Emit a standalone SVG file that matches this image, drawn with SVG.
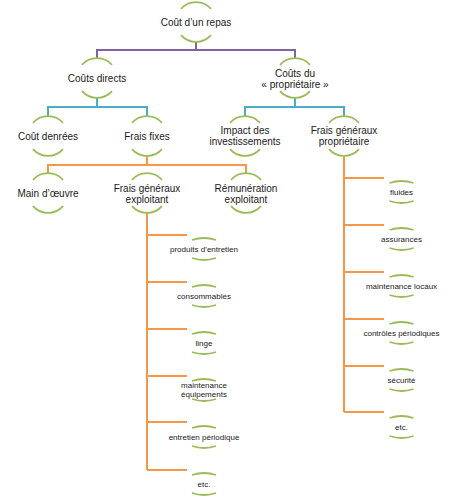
<svg xmlns="http://www.w3.org/2000/svg" width="453" height="497" viewBox="0 0 453 497">
<style>
.arc{fill:none;stroke:#9BBB59;stroke-width:1.8}
.lab{font-family:"Liberation Sans",Arial,sans-serif;font-size:10px;fill:#1a1a1a;text-anchor:middle}
.leaf{font-family:"Liberation Sans",Arial,sans-serif;font-size:8px;fill:#1a1a1a;text-anchor:middle}
.c1{fill:none;stroke:#8064A2;stroke-width:2}
.c2{fill:none;stroke:#4BACC6;stroke-width:2}
.c3{fill:none;stroke:#F79646;stroke-width:2}
</style>
<defs>
<path id="big" class="arc" d="M-15,-13.2 A20,20 0 0 1 15,-13.2 M-15,13.2 A20,20 0 0 0 15,13.2"/>
<path id="small" class="arc" d="M-12,-9 Q0,-13 12,-9 M-12,9 Q0,13 12,9"/>
</defs>
<rect width="453" height="497" fill="#ffffff"/>
<g id="connectors">
<path class="c1" d="M196,42 V50 M97,58 V50 H295 V58"/>
<path class="c2" d="M97,98 V107 M48,116 V107 H147 V116"/>
<path class="c2" d="M295,98 V107 M245,116 V107 H344 V116"/>
<path class="c3" d="M147,156 V165 M48,173 V165 H246 V173"/>
<path class="c3" d="M147,213 V470 M147,235 H187 M147,282 H187 M147,329 H187 M147,376 H187 M147,422 H187 M147,470 H187"/>
<path class="c3" d="M344,156 V412 M344,178 H384 M344,225 H384 M344,272 H384 M344,319 H384 M344,366 H384 M344,412 H384"/>
</g>
<g id="n1"><use href="#big" x="196" y="22"/><text class="lab" x="196" y="25.5">Coût d’un repas</text></g>
<g id="n2"><use href="#big" x="97" y="78"/><text class="lab" x="97" y="81.5">Coûts directs</text></g>
<g id="n3"><use href="#big" x="295" y="78"/><text class="lab" x="295" y="76.5">Coûts du</text><text class="lab" x="295" y="87.5">« propriétaire »</text></g>
<g id="n4"><use href="#big" x="48" y="136"/><text class="lab" x="48" y="139.5">Coût denrées</text></g>
<g id="n5"><use href="#big" x="147" y="136"/><text class="lab" x="147" y="139.5">Frais fixes</text></g>
<g id="n6"><use href="#big" x="245" y="136"/><text class="lab" x="245" y="134">Impact des</text><text class="lab" x="245" y="145">investissements</text></g>
<g id="n7"><use href="#big" x="344" y="136"/><text class="lab" x="344" y="134">Frais généraux</text><text class="lab" x="344" y="145">propriétaire</text></g>
<g id="n8"><use href="#big" x="48" y="193"/><text class="lab" x="48" y="196.5">Main d’œuvre</text></g>
<g id="n9"><use href="#big" x="147" y="193"/><text class="lab" x="147" y="191.5">Frais généraux</text><text class="lab" x="147" y="202.5">exploitant</text></g>
<g id="n10"><use href="#big" x="246" y="193"/><text class="lab" x="246" y="191.5">Rémunération</text><text class="lab" x="246" y="202.5">exploitant</text></g>
<g id="l1"><use href="#small" x="204" y="249"/><text class="leaf" x="204" y="252">produits d’entretien</text></g>
<g id="l2"><use href="#small" x="204" y="296"/><text class="leaf" x="204" y="299">consommables</text></g>
<g id="l3"><use href="#small" x="204" y="343"/><text class="leaf" x="204" y="346">linge</text></g>
<g id="l4"><use href="#small" x="204" y="390"/><text class="leaf" x="204" y="388">maintenance</text><text class="leaf" x="204" y="397">équipements</text></g>
<g id="l5"><use href="#small" x="204" y="437"/><text class="leaf" x="204" y="440">entretien périodique</text></g>
<g id="l6"><use href="#small" x="204" y="484"/><text class="leaf" x="204" y="487">etc.</text></g>
<g id="r1"><use href="#small" x="401.5" y="192"/><text class="leaf" x="401.5" y="195">fluides</text></g>
<g id="r2"><use href="#small" x="401.5" y="239"/><text class="leaf" x="401.5" y="242">assurances</text></g>
<g id="r3"><use href="#small" x="401.5" y="286"/><text class="leaf" x="401.5" y="289">maintenance locaux</text></g>
<g id="r4"><use href="#small" x="401.5" y="333"/><text class="leaf" x="401.5" y="336">contrôles périodiques</text></g>
<g id="r5"><use href="#small" x="401.5" y="380"/><text class="leaf" x="401.5" y="383">sécurité</text></g>
<g id="r6"><use href="#small" x="401.5" y="427"/><text class="leaf" x="401.5" y="430">etc.</text></g>
</svg>
